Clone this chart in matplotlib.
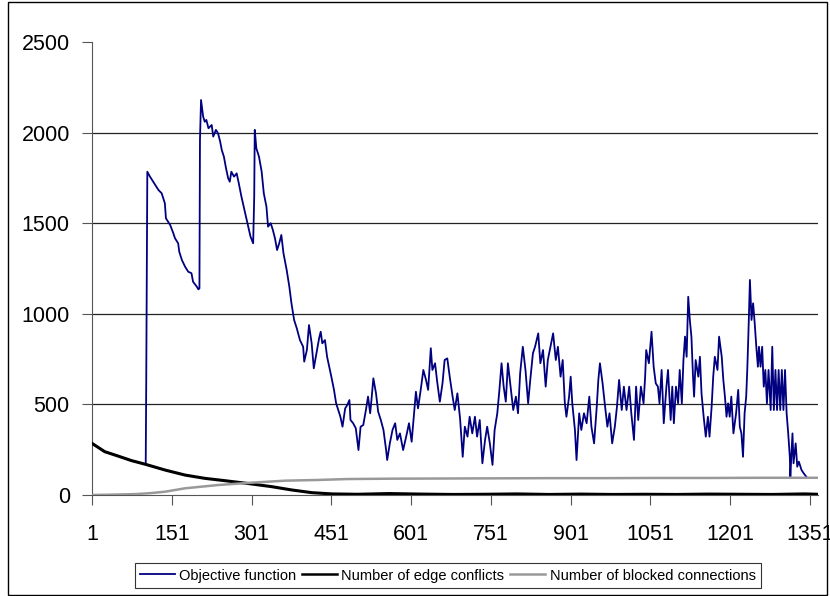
import matplotlib
matplotlib.use("Agg")
import matplotlib.pyplot as plt
from matplotlib.patches import Rectangle

plt.rcParams['font.family'] = ['Liberation Sans', 'DejaVu Sans']

# objective function, sampled at the iterations where it turns
obj_iter = [
    1, 25, 50, 75, 102, 103, 105, 110, 116, 126,
    132, 138, 140, 148, 154, 157, 163, 165, 170, 176,
    182, 188, 191, 198, 201, 203, 204, 206, 210, 213,
    216, 220, 226, 229, 234, 238, 242, 245, 249, 253,
    257, 260, 263, 268, 273, 277, 282, 287, 290, 295,
    299, 304, 306, 307, 310, 315, 320, 324, 329, 332,
    337, 341, 345, 349, 353, 357, 361, 367, 372, 376,
    381, 386, 392, 398, 400, 405, 409, 414, 418, 423,
    428, 431, 434, 439, 443, 447, 451, 456, 460, 464,
    468, 472, 477, 481, 485, 487, 492, 497, 502, 506,
    511, 516, 520, 524, 527, 530, 535, 539, 544, 549,
    554, 556, 561, 566, 571, 575, 580, 586, 593, 597,
    602, 606, 610, 614, 619, 624, 629, 633, 638, 641,
    646, 650, 655, 660, 664, 669, 674, 679, 683, 688,
    693, 698, 702, 707, 711, 716, 721, 725, 730, 735,
    740, 744, 749, 754, 758, 763, 767, 771, 775, 779,
    783, 788, 793, 798, 802, 806, 811, 816, 821, 825,
    830, 834, 840, 844, 849, 854, 858, 863, 868, 873,
    877, 882, 886, 890, 893, 898, 901, 904, 909, 912,
    917, 921, 926, 931, 936, 940, 945, 950, 953, 956,
    961, 965, 970, 974, 979, 984, 988, 992, 997, 1001,
    1006, 1011, 1015, 1020, 1024, 1028, 1033, 1038, 1041, 1043,
    1048, 1053, 1057, 1061, 1065, 1068, 1072, 1076, 1081, 1084,
    1089, 1092, 1095, 1099, 1103, 1106, 1110, 1113, 1116, 1119,
    1122, 1125, 1128, 1131, 1133, 1136, 1141, 1144, 1147, 1151,
    1155, 1159, 1162, 1166, 1169, 1172, 1177, 1180, 1185, 1188,
    1191, 1194, 1197, 1200, 1203, 1207, 1212, 1216, 1219, 1222,
    1225, 1228, 1231, 1233, 1235, 1238, 1241, 1244, 1247, 1250,
    1253, 1255, 1258, 1261, 1264, 1267, 1270, 1273, 1277, 1280,
    1283, 1286, 1289, 1292, 1295, 1298, 1301, 1304, 1307, 1310,
    1313, 1314, 1318, 1320, 1324, 1327, 1330, 1335, 1339, 1344,
]
obj_value = [
    285, 239, 215, 190, 169, 635, 1784, 1757, 1729, 1683,
    1665, 1610, 1527, 1490, 1444, 1417, 1389, 1343, 1297, 1260,
    1232, 1224, 1177, 1150, 1135, 1140, 1959, 2180, 2088, 2060,
    2070, 2024, 2042, 1978, 2015, 1996, 1950, 1904, 1867, 1803,
    1748, 1729, 1784, 1757, 1775, 1720, 1646, 1582, 1545, 1481,
    1426, 1389, 1646, 2015, 1913, 1867, 1784, 1665, 1591, 1481,
    1500, 1463, 1417, 1352, 1389, 1435, 1334, 1242, 1150, 1058,
    966, 920, 855, 818, 736, 800, 938, 837, 699, 782,
    865, 901, 837, 855, 763, 708, 653, 580, 506, 469,
    432, 377, 478, 497, 524, 414, 396, 368, 248, 377,
    386, 469, 543, 451, 543, 644, 561, 460, 414, 359,
    248, 193, 285, 359, 396, 304, 340, 248, 340, 396,
    294, 432, 570, 478, 580, 690, 635, 580, 810, 690,
    727, 625, 515, 616, 745, 754, 644, 543, 469, 561,
    423, 211, 377, 322, 432, 340, 432, 322, 414, 175,
    304, 377, 285, 166, 359, 451, 580, 727, 598, 515,
    727, 598, 469, 543, 451, 672, 818, 690, 506, 635,
    782, 818, 892, 727, 800, 598, 745, 818, 892, 745,
    818, 653, 745, 506, 432, 543, 653, 506, 359, 193,
    451, 359, 451, 396, 543, 377, 285, 487, 635, 727,
    616, 506, 377, 451, 285, 377, 487, 635, 469, 598,
    469, 598, 451, 304, 598, 414, 598, 506, 653, 800,
    727, 901, 708, 616, 598, 506, 690, 396, 598, 690,
    414, 598, 396, 598, 506, 690, 506, 745, 874, 763,
    1094, 966, 874, 653, 543, 745, 653, 763, 561, 432,
    322, 432, 322, 487, 653, 763, 690, 874, 763, 635,
    543, 432, 506, 432, 543, 340, 451, 580, 377, 340,
    211, 451, 543, 690, 874, 1187, 966, 1058, 948, 818,
    708, 818, 708, 818, 598, 690, 506, 690, 469, 818,
    469, 690, 469, 690, 469, 690, 469, 690, 451, 340,
    211, 101, 340, 175, 285, 156, 184, 138, 120, 101,
]

edge_iter = [1, 25, 50, 75, 102, 138, 176, 213, 251, 301,
             339, 376, 414, 452, 500, 560, 620, 680, 740, 800,
             860, 920, 980, 1040, 1100, 1160, 1220, 1280, 1340, 1366]
edge_value = [285, 239, 215, 190, 169, 138, 110, 92, 79, 61,
              46, 28, 13, 6, 4, 8, 5, 3, 4, 6,
              3, 5, 3, 4, 3, 5, 4, 3, 6, 4]

blocked_iter = [1, 40, 82, 110, 138, 176, 238, 301, 364, 426,
                480, 560, 660, 760, 860, 960, 1060, 1160, 1260, 1366]
blocked_value = [0, 2, 5, 10, 18, 37, 55, 68, 79, 83,
                 88, 90, 91, 92, 93, 93, 94, 94, 95, 95]

x_ticks = [1, 151, 301, 451, 601, 751, 901, 1051, 1201, 1351]
y_ticks = [0, 500, 1000, 1500, 2000, 2500]

fig = plt.figure(figsize=(8.3, 5.96), dpi=100)
ax = fig.add_axes([92 / 830, 101 / 596, 726 / 830, 453 / 596])

ax.plot(obj_iter, obj_value, color='#000080', lw=1.3, label='Objective function', zorder=3)
ax.plot(edge_iter, edge_value, color='black', lw=2.2, label='Number of edge conflicts', zorder=4)
ax.plot(blocked_iter, blocked_value, color='#999999', lw=1.8, label='Number of blocked connections', zorder=4)

ax.set_xlim(1, 1366)
ax.set_ylim(0, 2500)
ax.set_xticks(x_ticks)
ax.set_yticks(y_ticks)
for y in y_ticks[1:-1]:
    ax.axhline(y, color='#222222', lw=0.9, zorder=1)

for side in ['top', 'right']:
    ax.spines[side].set_visible(False)
ax.spines['left'].set_color('#555555')
ax.spines['bottom'].set_color('#555555')
ax.tick_params(axis='both', direction='out', length=7, color='#555555',
               labelsize=15.5)
ax.tick_params(axis='y', pad=9)
ax.tick_params(axis='x', pad=14)

leg = ax.legend(loc='upper center', bbox_to_anchor=(0.49, -0.135), ncol=3,
                fontsize=10.5, frameon=True, fancybox=False, handlelength=2.4,
                columnspacing=0.4, handletextpad=0.3, borderpad=0.35)
leg.get_frame().set_edgecolor('black')
leg.get_frame().set_linewidth(0.8)
for line in leg.get_lines():
    line.set_linewidth(min(line.get_linewidth(), 1.8))

# chart area border
fig.patches.append(Rectangle((8 / 830, 1 / 596), 819 / 830, 0.995, transform=fig.transFigure,
                             fill=False, edgecolor='black', lw=1))

fig.savefig('out.png', dpi=100)
